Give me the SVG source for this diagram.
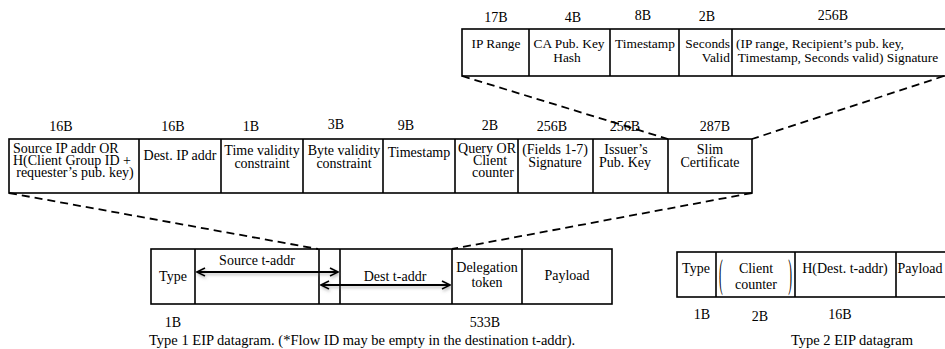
<svg xmlns="http://www.w3.org/2000/svg" width="945" height="349" viewBox="0 0 945 349">
  <style>
    text { font-family: "Liberation Serif", "Times New Roman", serif; font-size: 14px; fill: #000; }
    .c { text-anchor: middle; }
    .e { text-anchor: end; }
    .sm { font-size: 13.4px; }
    .cap { font-size: 14.5px; }
    .box { fill: #fff; stroke: #000; stroke-width: 1.6; }
    .div { stroke: #000; stroke-width: 1.6; fill: none; }
    .dash { stroke: #000; stroke-width: 1.8; fill: none; stroke-dasharray: 8 5; }
    .arr { stroke: #000; stroke-width: 2; fill: none; }
    .paren { font-size: 14px; }
  </style>
  <defs>
    <marker id="head" viewBox="0 0 10 10" refX="9" refY="5" markerWidth="10" markerHeight="10" markerUnits="userSpaceOnUse" orient="auto-start-reverse">
      <path d="M1,1 L9,5 L1,9" fill="none" stroke="#000" stroke-width="1.8"/>
    </marker>
    <filter id="soft" x="-10%" y="-100%" width="120%" height="300%">
      <feDropShadow dx="1" dy="2" stdDeviation="1.4" flood-color="#777" flood-opacity="0.5"/>
    </filter>
  </defs>

  <!-- Slim certificate fields -->
  <g id="slim-certificate">
    <rect class="box" x="462" y="29" width="484" height="47"/>
    <path class="div" d="M529,29V76 M610,29V76 M679,29V76 M732,29V76"/>
    <text class="c" x="496" y="22">17B</text>
    <text class="c" x="573" y="22">4B</text>
    <text class="c" x="643" y="20">8B</text>
    <text class="c" x="707" y="21">2B</text>
    <text class="c" x="833" y="20">256B</text>
    <text class="c sm" x="496" y="48">IP Range</text>
    <text class="c sm" x="569" y="48">CA Pub. Key<tspan x="567" dy="14">Hash</tspan></text>
    <text class="c sm" x="645" y="48">Timestamp</text>
    <text class="e sm" x="730" y="48">Seconds<tspan x="730" dy="14">Valid</tspan></text>
    <text class="c sm" x="820" y="48">(IP range, Recipient’s pub. key,</text>
    <text class="c sm" x="838" y="62">Timestamp, Seconds valid) Signature</text>
  </g>

  <!-- Delegation token fields -->
  <g id="delegation-token">
    <rect class="box" x="9" y="139" width="743" height="54"/>
    <path class="div" d="M139,139V193 M221,139V193 M303,139V193 M383,139V193 M455,139V193 M518,139V193 M593,139V193 M668,139V193"/>
    <text class="c" x="61" y="131">16B</text>
    <text class="c" x="173" y="131">16B</text>
    <text class="c" x="251" y="131">1B</text>
    <text class="c" x="336" y="129">3B</text>
    <text class="c" x="406" y="130">9B</text>
    <text class="c" x="490" y="130">2B</text>
    <text class="c" x="552" y="131">256B</text>
    <text class="c" x="625" y="131">256B</text>
    <text class="c" x="715" y="131">287B</text>
    <text x="13" y="153">Source IP addr OR<tspan x="13" dy="12">H(Client Group ID +</tspan></text>
    <text class="c" x="75" y="177">requester’s pub. key)</text>
    <text class="c" x="180" y="160">Dest. IP addr</text>
    <text class="c" x="262" y="155">Time validity<tspan x="262" dy="13">constraint</tspan></text>
    <text class="c" x="344" y="155">Byte validity<tspan x="344" dy="13">constraint</tspan></text>
    <text class="c" x="419" y="157">Timestamp</text>
    <text class="c" x="487" y="153">Query OR<tspan x="490" dy="12">Client</tspan><tspan x="493" dy="12">counter</tspan></text>
    <text class="c" x="555" y="154">(Fields 1-7)<tspan x="555" dy="13">Signature</tspan></text>
    <text class="c" x="626" y="154">Issuer’s<tspan x="625" dy="13">Pub. Key</tspan></text>
    <text class="c" x="710" y="154">Slim<tspan x="710" dy="13">Certificate</tspan></text>
  </g>

  <!-- Type 1 EIP datagram -->
  <g id="type1-datagram">
    <rect class="box" x="151" y="249" width="461" height="55"/>
    <path class="div" d="M195,249V304 M452,249V304 M522,249V304"/>
    <path class="div" stroke-width="2.2" d="M319,249V304 M340,249V304"/>
    <text class="c" x="173" y="281">Type</text>
    <text class="c" x="257" y="265">Source t-addr</text>
    <text class="c" x="395" y="281">Dest t-addr</text>
    <text class="c" x="487" y="272">Delegation<tspan x="487" dy="15">token</tspan></text>
    <text class="c" x="567" y="280">Payload</text>
    <text class="c" x="173" y="327">1B</text>
    <text class="c" x="485" y="327">533B</text>
    <text class="cap" x="149" y="345">Type 1 EIP datagram. (*Flow ID may be empty in the destination t-addr).</text>
  </g>

  <!-- Type 2 EIP datagram -->
  <g id="type2-datagram">
    <rect class="box" x="677" y="252" width="270" height="45"/>
    <path class="div" d="M716,252V297 M795,252V297 M896,252V297"/>
    <text class="c" x="696" y="273">Type</text>
    <text class="paren" transform="translate(719,287) scale(0.8,2.8)">(</text>
    <text class="paren e" transform="translate(792,287) scale(0.8,2.8)">)</text>
    <text class="c" x="756" y="273">Client<tspan x="756" dy="16">counter</tspan></text>
    <text class="c" x="845" y="273">H(Dest. t-addr)</text>
    <text class="c" x="920" y="273">Payload</text>
    <text class="c" x="702" y="319">1B</text>
    <text class="c" x="760" y="321">2B</text>
    <text class="c" x="840" y="319">16B</text>
    <text class="c cap" x="852" y="345">Type 2 EIP datagram</text>
  </g>

  <!-- Connectors: zoom-out guides and t-addr spans -->
  <g id="connectors">
    <path class="dash" d="M462,76 L668,139"/>
    <path class="dash" d="M944,76 L752,139"/>
    <path class="dash" d="M9,193 L318,249"/>
    <path class="dash" d="M752,193 L452,249"/>
    <g filter="url(#soft)">
      <path class="arr" d="M197,272 H338" marker-start="url(#head)" marker-end="url(#head)"/>
      <path class="arr" d="M321,285 H450" marker-start="url(#head)" marker-end="url(#head)"/>
    </g>
  </g>
</svg>
